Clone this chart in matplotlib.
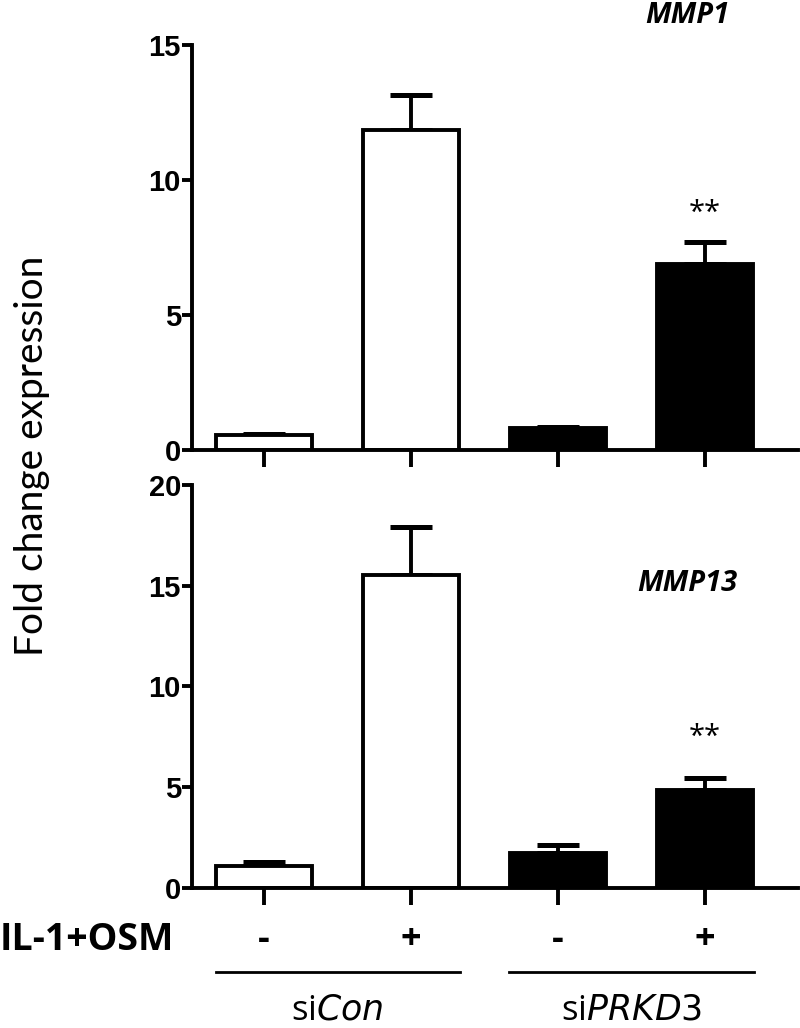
import matplotlib.pyplot as plt
import matplotlib.transforms as mtransforms
import numpy as np

plt.rcParams['font.family'] = ['Lato', 'DejaVu Sans']

conditions = ['-', '+', '-', '+']
groups = ['si$\\it{Con}$', 'si$\\it{PRKD3}$']
colors = ['white', 'white', 'black', 'black']

mmp1 = [0.55, 11.85, 0.8, 6.9]
mmp1_err = [0.05, 1.3, 0.05, 0.8]
mmp13 = [1.1, 15.55, 1.76, 4.87]
mmp13_err = [0.2, 2.35, 0.35, 0.58]

x = np.arange(len(conditions))

fig = plt.figure(figsize=(8, 10.28), dpi=100)
ax1 = fig.add_axes([0.24, 0.5623, 0.757, 0.3939])
ax2 = fig.add_axes([0.24, 0.1362, 0.757, 0.392])

tick_font = {'family': ['Liberation Sans Narrow', 'Liberation Sans', 'DejaVu Sans'],
             'weight': 'bold', 'size': 21}
sans = ['Open Sans', 'DejaVu Sans']


def panel(ax, vals, errs, ymax, step, gene, gene_y):
    ax.bar(x, vals, width=0.65, color=colors, edgecolor='black', linewidth=2.8, zorder=2)
    ax.errorbar(x, vals, yerr=[np.zeros(len(vals)), errs], fmt='none', ecolor='black',
                elinewidth=2.8, capsize=15, capthick=3.6, zorder=1)
    ax.set_xlim(-0.49, 3.63)
    ax.set_ylim(0, ymax)
    ax.set_yticks(np.arange(0, ymax + 1, step))
    ax.set_yticklabels([str(int(v)) for v in np.arange(0, ymax + 1, step)], fontdict=tick_font)
    ax.set_xticks(x)
    ax.set_xticklabels([])
    for s in ['top', 'right']:
        ax.spines[s].set_visible(False)
    for s in ['left', 'bottom']:
        ax.spines[s].set_linewidth(2.8)
    ax.tick_params(axis='y', length=7, width=2.8, pad=1)
    ax.tick_params(axis='x', length=12, width=2.8)
    ax.text(2.88, gene_y, gene, fontsize=21, fontweight='bold', fontstyle='italic',
            ha='center', va='center', family=sans)


panel(ax1, mmp1, mmp1_err, 15, 5, 'MMP1', 16.1)
panel(ax2, mmp13, mmp13_err, 20, 5, 'MMP13', 15.1)

ax1.text(3, 8.75, '**', ha='center', va='center', fontsize=21, family=sans)
ax2.text(3, 7.45, '**', ha='center', va='center', fontsize=21, family=sans)

fig.text(0.04, 0.557, 'Fold change expression', rotation=90, ha='center', va='center',
         fontsize=28)

trans = mtransforms.blended_transform_factory(ax2.transData, fig.transFigure)
fig.text(0.0, 0.0856, 'IL-1+OSM', ha='left', va='center', fontsize=27, fontweight='bold',
         family=sans)
for xi, c in zip(x, conditions):
    ax2.text(xi, 0.0856, c, transform=trans, ha='center', va='center', fontsize=26,
             fontweight='bold', family=sans)

for gi, g in enumerate(groups):
    x0, x1 = x[2 * gi] - 0.33, x[2 * gi + 1] + 0.33
    ax2.plot([x0, x1], [0.0545, 0.0545], transform=trans, color='black', lw=2, clip_on=False)
    ax2.text((x0 + x1) / 2, 0.017, g, transform=trans, ha='center', va='center',
             fontsize=25, family=sans)

plt.savefig('out.png', dpi=100)
